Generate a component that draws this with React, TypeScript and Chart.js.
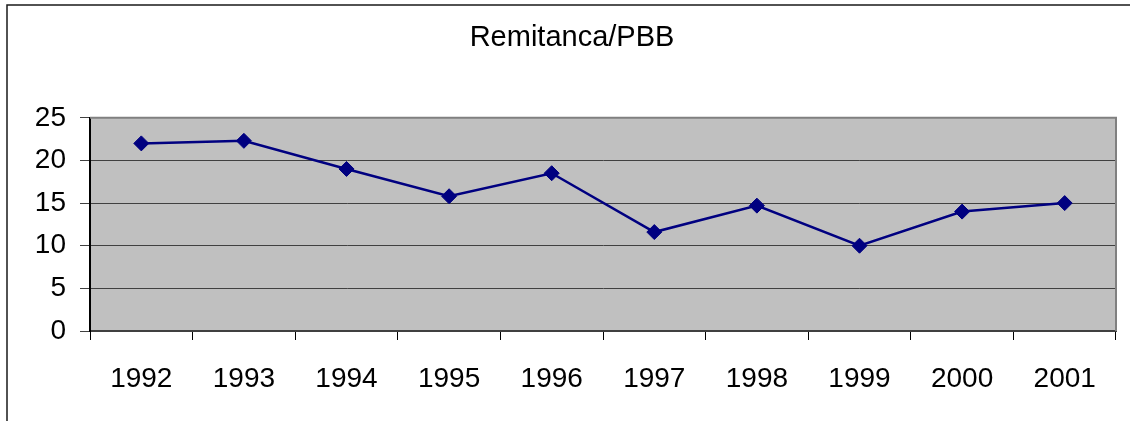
import React, { useEffect, useRef } from "react";
import { Chart, registerables } from "chart.js";

Chart.register(...registerables);

const TITLE = "Remitanca/PBB";
const YEARS = ["1992", "1993", "1994", "1995", "1996", "1997", "1998", "1999", "2000", "2001"];
const VALUES = [22.0, 22.3, 19.0, 15.8, 18.5, 11.6, 14.7, 10.0, 14.0, 15.0];
const Y_TICKS = [0, 5, 10, 15, 20, 25];

const FONT = "'Liberation Sans', Arial, sans-serif";

const framePlugin = {
  id: "frame",
  beforeDraw(chart: any) {
    const { ctx, chartArea } = chart;
    ctx.save();
    ctx.fillStyle = "#ffffff";
    ctx.fillRect(0, 0, chart.width, chart.height);
    // outer chart frame (clipped on right/bottom)
    ctx.strokeStyle = "#1a1a1a";
    ctx.lineWidth = 1.5;
    ctx.beginPath();
    ctx.moveTo(7, chart.height + 5);
    ctx.lineTo(7, 5);
    ctx.lineTo(chart.width + 5, 5);
    ctx.stroke();
    // plot background
    ctx.fillStyle = "#c0c0c0";
    ctx.fillRect(chartArea.left, chartArea.top, chartArea.right - chartArea.left, chartArea.bottom - chartArea.top);
    ctx.restore();
  },
  beforeDatasetsDraw(chart: any) {
    const { ctx, chartArea } = chart;
    ctx.save();
    ctx.strokeStyle = "#808080";
    ctx.lineWidth = 2;
    ctx.beginPath();
    ctx.moveTo(chartArea.left, chartArea.top);
    ctx.lineTo(chartArea.right, chartArea.top);
    ctx.lineTo(chartArea.right, chartArea.bottom);
    ctx.stroke();
    ctx.restore();
  },
};

export default function App() {
  const ref = useRef<HTMLCanvasElement | null>(null);

  useEffect(() => {
    document.body.style.margin = "0";
    const canvas = ref.current;
    if (!canvas) return;
    const chart = new Chart(canvas, {
      type: "line",
      data: {
        labels: YEARS,
        datasets: [
          {
            label: TITLE,
            data: VALUES,
            borderColor: "#000080",
            backgroundColor: "#000080",
            borderWidth: 2.5,
            pointStyle: "rectRot",
            pointRadius: 7.5,
            pointBorderWidth: 1,
            pointBackgroundColor: "#000080",
            pointBorderColor: "#000080",
            tension: 0,
          },
        ],
      },
      options: {
        responsive: false,
        animation: false,
        devicePixelRatio: 1,
        layout: { padding: { left: 28, right: 14, top: 0, bottom: 0 } },
        plugins: {
          legend: { display: false },
          tooltip: { enabled: false },
          title: {
            display: true,
            text: TITLE,
            color: "#000000",
            font: { family: FONT, size: 29, weight: "normal" },
            padding: { top: 21, bottom: 62 },
          },
        },
        scales: {
          x: {
            type: "category",
            offset: true,
            grid: {
              offset: true,
              drawOnChartArea: false,
              drawTicks: true,
              tickLength: 9,
              tickColor: "#000000",
              lineWidth: 1,
            },
            border: { display: true, color: "#404040", width: 2 },
            ticks: {
              color: "#000000",
              font: { family: FONT, size: 28 },
              padding: 22,
              maxRotation: 0,
              autoSkip: false,
            },
            afterFit(scale: any) {
              scale.height = 90;
            },
          },
          y: {
            min: 0,
            max: 25,
            afterBuildTicks(scale: any) {
              scale.ticks = Y_TICKS.map((v) => ({ value: v }));
            },
            grid: {
              color: (c: any) => (c.tick && c.tick.value === 25 ? "rgba(0,0,0,0)" : "#404040"),
              lineWidth: 1,
              drawTicks: true,
              tickLength: 10,
              tickColor: "#404040",
            },
            border: { display: true, color: "#000000", width: 2 },
            ticks: {
              color: "#000000",
              font: { family: FONT, size: 28 },
              padding: 14,
            },
            afterFit(scale: any) {
              scale.width = 62;
            },
          },
        },
      },
      plugins: [framePlugin],
    });
    return () => chart.destroy();
  }, []);

  return <canvas ref={ref} width={1130} height={421} style={{ display: "block", width: 1130, height: 421 }} />;
}
